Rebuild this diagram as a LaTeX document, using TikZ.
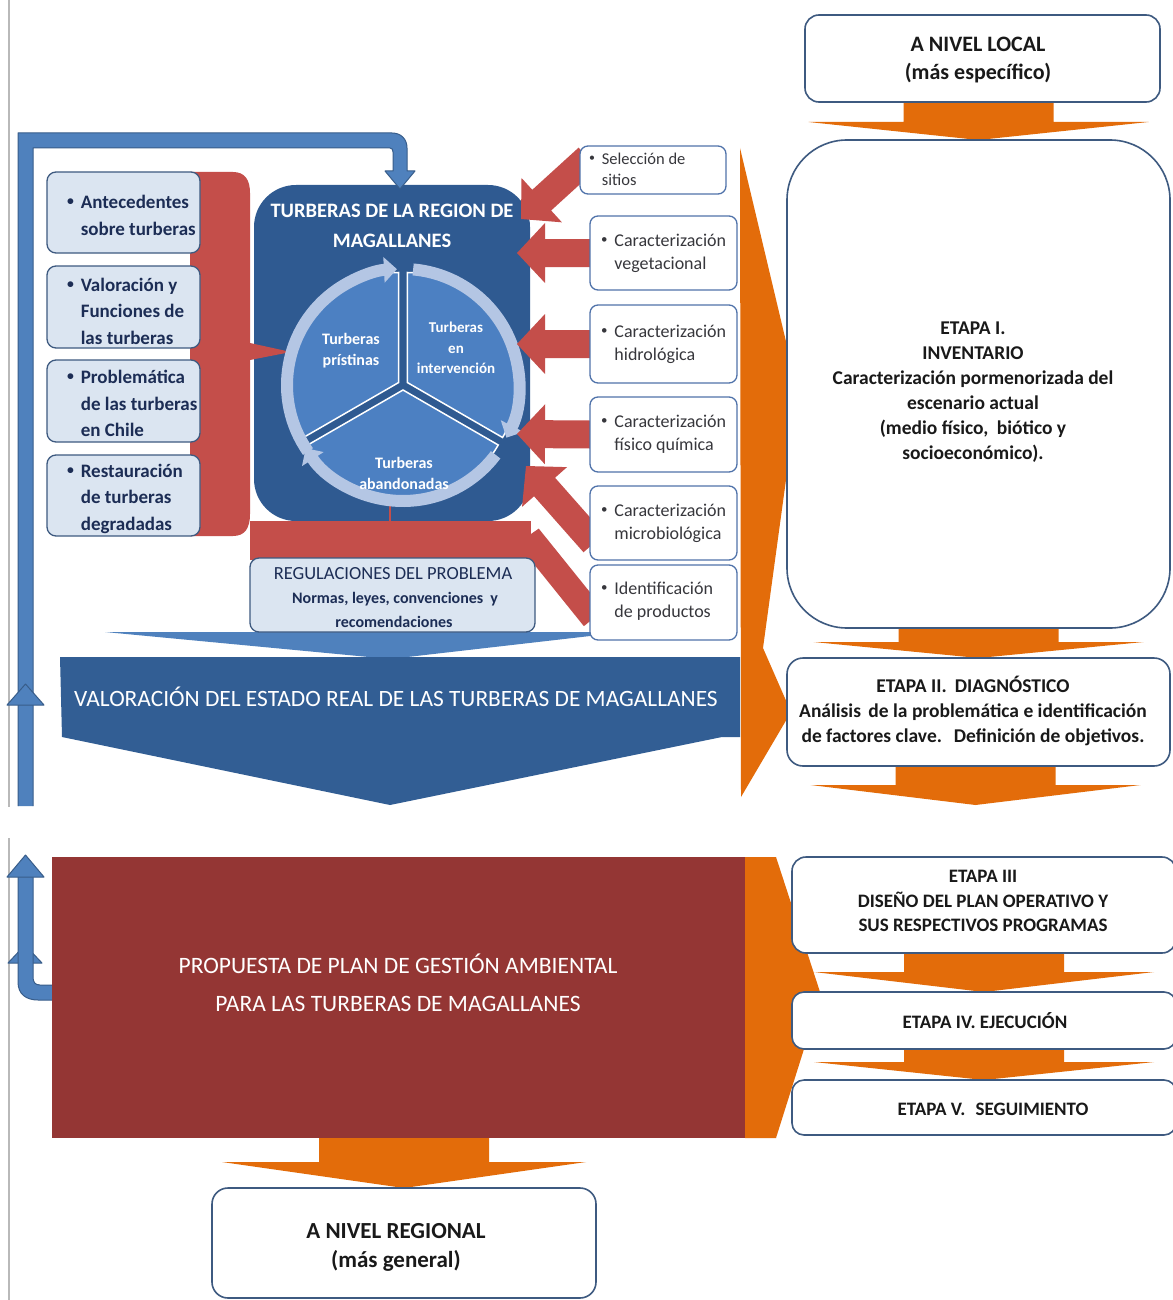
\documentclass[tikz,border=0pt]{standalone}
\usepackage{fontspec}
\setmainfont{Carlito}
\usetikzlibrary{calc,arrows.meta}
\definecolor{navyC}{RGB}{47,90,145}
\definecolor{bandblue}{RGB}{50,94,148}
\definecolor{sectorC}{RGB}{76,128,194}
\definecolor{ringC}{RGB}{180,198,228}
\definecolor{redC}{RGB}{196,78,74}
\definecolor{maroonC}{RGB}{148,54,52}
\definecolor{orangeC}{RGB}{227,108,10}
\definecolor{lightbox}{RGB}{219,229,241}
\definecolor{boxline}{RGB}{62,90,128}
\definecolor{rboxline}{RGB}{80,115,170}
\definecolor{fbblue}{RGB}{79,129,189}
\definecolor{fbline}{RGB}{56,93,138}
\definecolor{txtdark}{RGB}{25,25,25}
\definecolor{txtnavy}{RGB}{28,45,85}
\definecolor{txtgray}{RGB}{55,55,60}
\newcommand\fsz[2]{\fontsize{#1}{#2}\selectfont}
\newcommand\smallbul{\raisebox{0.16em}{\scalebox{0.72}{\textbullet}}}
\newcommand\blist[1]{\begin{tabular}{@{}l@{\hspace{7pt}}l@{}}\smallbul&#1\end{tabular}}
\newcommand\blockarr[6]{%
  \path[#6] ($(#1)!#3!90:(#2)$)
    -- ($($(#2)!#5!(#1)$)!#3!90:(#2)$)
    -- ($($(#2)!#5!(#1)$)!#4!90:(#2)$)
    -- (#2)
    -- ($($(#2)!#5!(#1)$)!#4!-90:(#2)$)
    -- ($($(#2)!#5!(#1)$)!#3!-90:(#2)$)
    -- ($(#1)!#3!-90:(#2)$) -- cycle;}
\begin{document}
\begin{tikzpicture}[x=1pt,y=-1pt,
  every node/.style={inner sep=0pt, outer sep=0pt},
  lbox/.style={draw=boxline, line width=1.3pt, fill=lightbox, rounded corners=9pt},
  rbox/.style={draw=rboxline, line width=1.3pt, fill=white, rounded corners=8pt},
  sbox/.style={draw=boxline, line width=1.6pt, fill=white},
  stxt/.style={text=txtdark, align=center, font=\bfseries\fsz{19.5}{25}},
  ltxt/.style={anchor=west, text=txtnavy, font=\bfseries\fsz{19}{26.5}},
  rtxt/.style={anchor=west, text=txtgray, font=\fsz{18}{23}},
  pietxt/.style={text=white, align=center},
  sector/.style={fill=sectorC, draw=white, line width=1.5pt},
  ring/.style={ringC, line width=12pt, -{Triangle[width=25pt,length=13pt]}},
  fb/.style={fill=fbblue, draw=fbline, line width=1pt, line join=round},
  oarr/.style={fill=orangeC},
  rarr/.style={fill=redC}]
\useasboundingbox (0,0) rectangle (1172,1300);
\fill[white] (0,0) rectangle (1172,1300);

% ---------- placeholders (named boxes) ----------
\node[minimum width=153pt, minimum height=81pt] (ant) at (123.5,212.5) {};
\node[minimum width=153pt, minimum height=82pt] (val) at (123.5,307) {};
\node[minimum width=153pt, minimum height=82pt] (prob) at (123.5,401) {};
\node[minimum width=153pt, minimum height=81pt] (rest) at (123.5,495.5) {};
\node[minimum width=146pt, minimum height=48pt] (sel) at (653,170) {};
\node[minimum width=147pt, minimum height=74pt] (veg) at (663.5,253) {};
\node[minimum width=147pt, minimum height=78pt] (hid) at (663.5,344) {};
\node[minimum width=147pt, minimum height=75pt] (fis) at (663.5,434.5) {};
\node[minimum width=147pt, minimum height=74pt] (mic) at (663.5,523) {};
\node[minimum width=147pt, minimum height=75pt] (idp) at (663.5,602.5) {};
\node[minimum width=285pt, minimum height=74pt] (regu) at (392.5,595) {};
\node[minimum width=355pt, minimum height=87pt] (loc) at (982.5,58.5) {};
\node[minimum width=383pt, minimum height=488pt] (et1) at (978.5,384) {};
\node[minimum width=383pt, minimum height=108pt] (et2) at (978.5,712) {};
\node[minimum width=384pt, minimum height=96pt] (et3) at (984,905) {};
\node[minimum width=384pt, minimum height=57pt] (et4) at (984,1020.5) {};
\node[minimum width=384pt, minimum height=55pt] (et5) at (984,1107.5) {};
\node[minimum width=693pt, minimum height=281pt] (prop) at (398.5,997.5) {};
\node[minimum width=384pt, minimum height=110pt] (reg) at (404,1243) {};

% ---------- page border lines ----------
\draw[gray!55, line width=1.2pt] (9,0) -- (9,807);
\draw[gray!55, line width=1.2pt] (9,838) -- (9,1300);

% ---------- orange chevrons ----------
\fill[orangeC] (740,148) -- (798,392) -- (763,648) -- (791,712) -- (741,797) -- cycle;
\fill[orangeC] (745,857) -- (776,857) -- (821,995) -- (776,1138) -- (745,1138) -- cycle;

% ---------- valoracion ----------
\fill[fbblue] (105,632) -- (625,632) -- (390,659) -- cycle;
\fill[bandblue] (60,657) -- (740,657) -- (740,737) -- (722,737) -- (390,805) -- (62,737) -- cycle;
\node[text=white, font=\fsz{23.4}{28}] (valt) at (396,697) {VALORACIÓN DEL ESTADO REAL DE LAS TURBERAS DE MAGALLANES};

% ---------- central box ----------
\node[fill=navyC, rounded corners=42pt, minimum width=276pt, minimum height=336pt] (cbox) at (392,353) {};
\node[text=white, font=\bfseries\fsz{20.5}{30}, align=center] (ctitle) at (392,226) {TURBERAS DE LA REGION DE\\MAGALLANES};

% ---------- red bracket (left) ----------
\fill[redC] (190,172) -- (233,172) .. controls (245,172) and (250,180) .. (250,193) -- (250,343) -- (291,352) -- (250,360) -- (250,514) .. controls (250,528) and (245,536) .. (233,536) -- (190,536) -- cycle;

% ---------- red band under pie ----------
\fill[redC] (250,521) rectangle (531,560);
\draw[redC, line width=2.5pt] (390,521) -- (390,490);

% ---------- pie ----------
\coordinate (pc) at (403,385);
\filldraw[sector] ($(pc)+(-150:5)$) -- ++(-90:110) arc[start angle=-90, end angle=-210, radius=110] -- cycle;
\filldraw[sector] ($(pc)+(-30:5)$) -- ++(-90:110) arc[start angle=-90, end angle=30, radius=110] -- cycle;
\filldraw[sector] ($(pc)+(90:5)$) -- ++(150:110) arc[start angle=150, end angle=30, radius=110] -- cycle;
\draw[ring] ($(pc)+(-215:116)$) arc[start angle=-215, end angle=-93, radius=116];
\draw[ring] ($(pc)+(-85:116)$) arc[start angle=-85, end angle=27, radius=116];
\draw[ring] ($(pc)+(37:116)$) arc[start angle=37, end angle=147, radius=116];
\node[pietxt, font=\bfseries\fsz{16}{21}] (lpri) at (351,351) {Turberas\\prístinas};
\node[pietxt, font=\bfseries\fsz{15}{20.5}] (lint) at (456,348) {Turberas\\en\\intervención};
\node[pietxt, font=\bfseries\fsz{16}{21}] (laba) at (404,473) {Turberas\\abandonadas};

% ---------- red arrows into central box ----------
\coordinate (ssel) at (588,158);  \coordinate (tsel) at (521,219);
\coordinate (tveg) at (517,253);
\coordinate (thid) at (517,344);
\coordinate (tfis) at (517,434);
\coordinate (smic) at (594,543);  \coordinate (tmic) at (526,466);
\coordinate (sidp) at (594,618);  \coordinate (tidp) at (528,536);
\blockarr{ssel}{tsel}{14pt}{30pt}{28pt}{rarr}
\blockarr{veg.west}{tveg}{14pt}{30pt}{28pt}{rarr}
\blockarr{hid.west}{thid}{14pt}{30pt}{28pt}{rarr}
\blockarr{fis.west}{tfis}{14pt}{30pt}{28pt}{rarr}
\blockarr{smic}{tmic}{14pt}{30pt}{28pt}{rarr}
\blockarr{sidp}{tidp}{13pt}{13pt}{1pt}{rarr}

% ---------- left boxes ----------
\draw[lbox] (ant.north west) rectangle (ant.south east);
\draw[lbox] (val.north west) rectangle (val.south east);
\draw[lbox] (prob.north west) rectangle (prob.south east);
\draw[lbox] (rest.north west) rectangle (rest.south east);
\node[ltxt] (antt) at (67,216.5) {\blist{Antecedentes\\&sobre turberas}};
\node[ltxt] (valtx) at (67,312.5) {\blist{Valoración y\\&Funciones de\\&las turberas}};
\node[ltxt] (probt) at (67,405) {\blist{Problemática\\&de las turberas\\&en Chile}};
\node[ltxt] (restt) at (67,498.5) {\blist{Restauración\\&de turberas\\&degradadas}};

% ---------- regulaciones ----------
\draw[lbox] (regu.north west) rectangle (regu.south east);
\fill[redC] (250,521) rectangle (520,557);
\node[text=txtnavy, font=\fsz{18.5}{24}] (regt1) at (393,574) {REGULACIONES DEL PROBLEMA};
\node[text=txtnavy, font=\bfseries\fsz{16}{22}] (regt2) at (395,599) {Normas, leyes, convenciones\hspace{7pt}y};
\node[text=txtnavy, font=\bfseries\fsz{16}{22}] (regt3) at (394,622) {recomendaciones};

% ---------- right boxes ----------
\draw[rbox] (sel.north west) rectangle (sel.south east);
\draw[rbox] (veg.north west) rectangle (veg.south east);
\draw[rbox] (hid.north west) rectangle (hid.south east);
\draw[rbox] (fis.north west) rectangle (fis.south east);
\draw[rbox] (mic.north west) rectangle (mic.south east);
\draw[rbox] (idp.north west) rectangle (idp.south east);
\node[rtxt, font=\fsz{16.5}{21}] (selt) at (589,170.5) {\blist{Selección de\\&sitios}};
\node[rtxt] (vegt) at (601,253.5) {\blist{Caracterización\\&vegetacional}};
\node[rtxt] (hidt) at (601,344) {\blist{Caracterización\\&hidrológica}};
\node[rtxt] (fist) at (601,434.5) {\blist{Caracterización\\&físico química}};
\node[rtxt] (mict) at (601,523) {\blist{Caracterización\\&microbiológica}};
\node[rtxt] (idpt) at (601,601.5) {\blist{Identificación\\&de productos}};

% ---------- orange arrows (right column) ----------
\coordinate (o3t) at ($(et2.south)+(-3,39)$);
\blockarr{et1.north |- loc.south}{et1.north}{75pt}{170pt}{18pt}{oarr}
\blockarr{et1.south}{et2.north}{80pt}{165pt}{16pt}{oarr}
\blockarr{et2.south -| o3t}{o3t}{80pt}{165pt}{20pt}{oarr}
\blockarr{et3.south}{et4.north}{80pt}{170pt}{20pt}{oarr}
\blockarr{et4.south}{et5.north}{80pt}{170pt}{18pt}{oarr}

% ---------- stage boxes ----------
\draw[sbox, rounded corners=14pt] (loc.north west) rectangle (loc.south east);
\draw[sbox, rounded corners=60pt] (et1.north west) rectangle (et1.south east);
\draw[sbox, rounded corners=16pt] (et2.north west) rectangle (et2.south east);
\draw[sbox, rounded corners=14pt] (et3.north west) rectangle (et3.south east);
\draw[sbox, rounded corners=12pt] (et4.north west) rectangle (et4.south east);
\draw[sbox, rounded corners=12pt] (et5.north west) rectangle (et5.south east);
\node[stxt, font=\bfseries\fsz{22}{28}] (loct) at (978,60) {A NIVEL LOCAL\\(más específico)};
\node[stxt] (et1t) at (973,392.5) {ETAPA I.\\INVENTARIO\\Caracterización pormenorizada del\\escenario actual\\(medio físico,\hspace{4pt} biótico y\\socioeconómico).};
\node[stxt] (et2t) at (973,711) {ETAPA II.\hspace{8pt}DIAGNÓSTICO\\Análisis\hspace{3pt} de la problemática e identificación\\de factores clave.\hspace{6pt} Definición de objetivos.};
\node[stxt, font=\bfseries\fsz{19}{24.5}] (et3t) at (983,901) {ETAPA III\\DISEÑO DEL PLAN OPERATIVO Y\\SUS RESPECTIVOS PROGRAMAS};
\node[stxt, font=\bfseries\fsz{19}{24.5}] (et4t) at (985,1021) {ETAPA IV. EJECUCIÓN};
\node[stxt, font=\bfseries\fsz{19}{24.5}] (et5t) at (993,1109) {ETAPA V.\hspace{6pt} SEGUIMIENTO};

% ---------- lower blue feedback arrow ----------
\path[fb] (8,963) -- (25,945) -- (42,963) -- cycle;
\path[fb] (18,876) -- (18,982) .. controls (18,994) and (26,1000) .. (38,1000) -- (58,1000) -- (58,985) -- (40,985) .. controls (35,985) and (33,982) .. (33,977) -- (33,876) -- cycle;
\path[fb] (7,877) -- (25.5,855) -- (44,877) -- cycle;

% ---------- propuesta ----------
\fill[maroonC] (prop.north west) rectangle (prop.south east);
\node[text=white, font=\fsz{23.5}{38}, align=center] (propt) at (398,983) {PROPUESTA DE PLAN DE GESTIÓN AMBIENTAL\\PARA LAS TURBERAS DE MAGALLANES};
\blockarr{prop.south -| reg.north}{reg.north}{85pt}{182pt}{26pt}{oarr}
\draw[sbox, rounded corners=16pt] (reg.north west) rectangle (reg.south east);
\node[stxt, font=\bfseries\fsz{23}{29}] (regt) at (396,1247.5) {A NIVEL REGIONAL\\(más general)};

% ---------- upper blue feedback arrow ----------
\fill[fbblue] (18,806) -- (18,133) -- (392,133) .. controls (401,133) and (407,139) .. (407,148) -- (407,171) -- (415,171) -- (400,189) -- (385,171) -- (393,171) -- (393,152) .. controls (393,149.5) and (392,148) .. (390,148) -- (33,148) -- (33,806) -- cycle;
\draw[fbline, line width=1pt, line join=round] (18,806) -- (18,133) -- (392,133) .. controls (401,133) and (407,139) .. (407,148) -- (407,171) -- (415,171) -- (400,189) -- (385,171) -- (393,171) -- (393,152) .. controls (393,149.5) and (392,148) .. (390,148) -- (33,148) -- (33,806);
\path[fb] (7,705) -- (25.5,684) -- (44,705) -- cycle;
\end{tikzpicture}
\end{document}
